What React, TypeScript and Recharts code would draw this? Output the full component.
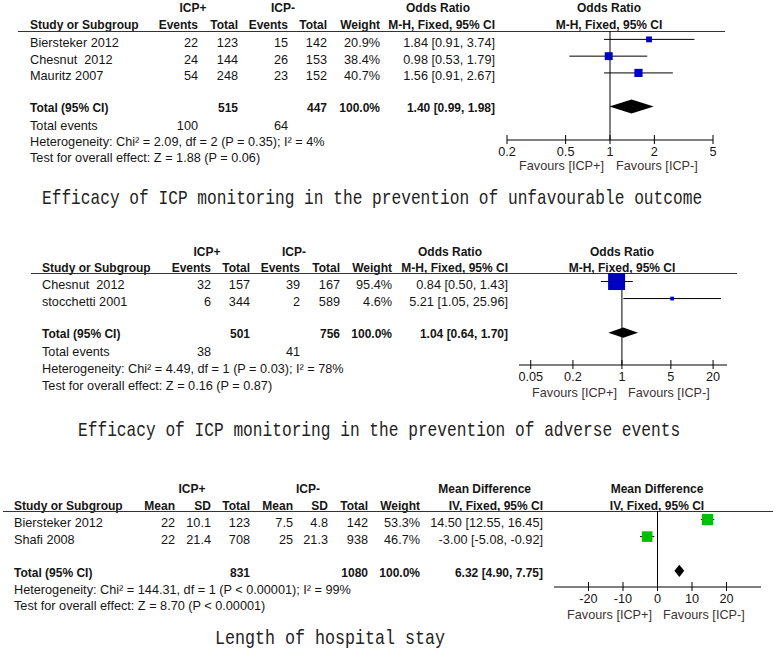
import React from 'react';
import { ComposedChart, XAxis, YAxis, Scatter, ReferenceLine, ReferenceArea } from 'recharts';

// ---------- Panel 1: unfavourable outcome (Odds Ratio) ----------
const studies1 = ['Biersteker 2012', 'Chesnut  2012', 'Mauritz 2007'];
const plusEvents1 = [22, 24, 54];
const plusTotal1 = [123, 144, 248];
const minusEvents1 = [15, 26, 23];
const minusTotal1 = [142, 153, 152];
const weights1 = [20.9, 38.4, 40.7];
const est1 = [1.84, 0.98, 1.56];
const lo1 = [0.91, 0.53, 0.91];
const hi1 = [3.74, 1.79, 2.67];
const groupTotals1 = [515, 447];
const totalEvents1 = [100, 64];
const pooled1 = [1.4, 0.99, 1.98];
const ticks1 = [0.2, 0.5, 1, 2, 5];
const het1 = 'Heterogeneity: Chi² = 2.09, df = 2 (P = 0.35); I² = 4%';
const test1 = 'Test for overall effect: Z = 1.88 (P = 0.06)';
const caption1 = 'Efficacy of ICP monitoring in the prevention of unfavourable outcome';

// ---------- Panel 2: adverse events (Odds Ratio) ----------
const studies2 = ['Chesnut  2012', 'stocchetti 2001'];
const plusEvents2 = [32, 6];
const plusTotal2 = [157, 344];
const minusEvents2 = [39, 2];
const minusTotal2 = [167, 589];
const weights2 = [95.4, 4.6];
const est2 = [0.84, 5.21];
const lo2 = [0.5, 1.05];
const hi2 = [1.43, 25.96];
const groupTotals2 = [501, 756];
const totalEvents2 = [38, 41];
const pooled2 = [1.04, 0.64, 1.7];
const ticks2 = [0.05, 0.2, 1, 5, 20];
const het2 = 'Heterogeneity: Chi² = 4.49, df = 1 (P = 0.03); I² = 78%';
const test2 = 'Test for overall effect: Z = 0.16 (P = 0.87)';
const caption2 = 'Efficacy of ICP monitoring in the prevention of adverse events';

// ---------- Panel 3: length of hospital stay (Mean Difference) ----------
const studies3 = ['Biersteker 2012', 'Shafi 2008'];
const plusMean3 = [22, 22];
const plusSD3 = [10.1, 21.4];
const plusTotal3 = [123, 708];
const minusMean3 = [7.5, 25];
const minusSD3 = [4.8, 21.3];
const minusTotal3 = [142, 938];
const weights3 = [53.3, 46.7];
const est3 = [14.5, -3.0];
const lo3 = [12.55, -5.08];
const hi3 = [16.45, -0.92];
const groupTotals3 = [831, 1080];
const pooled3 = [6.32, 4.9, 7.75];
const ticks3 = [-20, -10, 0, 10, 20];
const het3 = 'Heterogeneity: Chi² = 144.31, df = 1 (P < 0.00001); I² = 99%';
const test3 = 'Test for overall effect: Z = 8.70 (P < 0.00001)';
const caption3 = 'Length of hospital stay';

const SANS = '"Liberation Sans", Arial, sans-serif';
const INK = '#151515';

type TP = { x: number; y: number; a?: 'l' | 'r' | 'c'; b?: boolean; c?: string; children: React.ReactNode };
const T = ({ x, y, a = 'l', b = false, c = INK, children }: TP) => (
  <div
    style={{
      position: 'absolute',
      left: x,
      top: y,
      transform: `translate(${a === 'l' ? '0' : a === 'r' ? '-100%' : '-50%'}, -50%)`,
      whiteSpace: 'pre',
      fontFamily: SANS,
      fontSize: b ? 12 : 12.7,
      fontWeight: b ? 700 : 400,
      color: c,
      lineHeight: 1,
    }}
  >
    {children}
  </div>
);

const HLine = ({ x1, x2, y }: { x1: number; x2: number; y: number }) => (
  <div style={{ position: 'absolute', left: x1, top: y, width: x2 - x1, height: 1, background: '#333' }} />
);

const CAP_FS = 21;
const Caption = ({ x1, x2, y, text }: { x1: number; x2: number; y: number; text: string }) => {
  const natural = 0.6 * CAP_FS * text.length;
  const r = (x2 - x1) / natural;
  return (
    <div
      style={{
        position: 'absolute',
        left: x1,
        top: y,
        transformOrigin: '0 50%',
        transform: `translateY(-50%) scaleX(${r})`,
        whiteSpace: 'pre',
        fontFamily: '"Liberation Mono", "DejaVu Sans Mono", monospace',
        fontSize: CAP_FS,
        lineHeight: 1,
        color: '#222',
      }}
    >
      {text}
    </div>
  );
};

const renderTick = (p: any) => (
  <g>
    <line x1={p.x} x2={p.x} y1={p.y - 5} y2={p.y + 4} stroke="#000" strokeWidth={1} />
    <text x={p.x} y={p.y + 12} textAnchor="middle" dominantBaseline="central" fontSize={12.7} fontFamily={SANS} fill={INK}>
      {String(p.payload.value)}
    </text>
  </g>
);

type FP = {
  left: number;
  top: number;
  width: number;
  plotH: number;
  scale: 'log' | 'linear';
  domain: [number, number];
  ticks: number[];
  yDomain: [number, number];
  est: number[];
  lo: number[];
  hi: number[];
  weights: number[];
  pooled: number[];
  k: number;
  color: string;
  dh: number;
  nullX: number;
};

const PAD = 20;

function Forest({ left, top, width, plotH, scale, domain, ticks, yDomain, est, lo, hi, weights, pooled, k, color, dh, nullX }: FP) {
  const pts = est.map((v, i) => ({ x: v, y: i, w: weights[i] }));
  const pooledRow = est.length + 1;
  const diamond = (p: any) => {
    const { x, y, width: w, height: h } = p;
    return (
      <polygon
        points={`${x},${y + h / 2} ${x + w / 2},${y} ${x + w},${y + h / 2} ${x + w / 2},${y + h}`}
        fill="#000"
        stroke="none"
      />
    );
  };
  const square = (p: any) => {
    const s = k * Math.sqrt(p.payload.w);
    return <rect x={p.cx - s / 2} y={p.cy - s / 2} width={s} height={s} fill={color} />;
  };
  return (
    <div style={{ position: 'absolute', left: left - PAD, top }}>
      <ComposedChart width={width + 2 * PAD} height={plotH + 22} data={pts} margin={{ top: 0, right: PAD, bottom: 0, left: PAD }}>
        <XAxis
          type="number"
          dataKey="x"
          scale={scale}
          domain={domain}
          ticks={ticks}
          interval={0}
          allowDataOverflow
          tickSize={0}
          tickMargin={0}
          tickLine={false}
          axisLine={{ stroke: '#000' }}
          height={22}
          tick={renderTick}
        />
        <YAxis type="number" dataKey="y" domain={yDomain} reversed hide allowDataOverflow />
        <ReferenceLine x={nullX} stroke="#000" ifOverflow="visible" />
        {est.map((_, i) => (
          <ReferenceLine
            key={i}
            segment={[
              { x: lo[i], y: i },
              { x: hi[i], y: i },
            ]}
            stroke="#000"
            ifOverflow="visible"
          />
        ))}
        <ReferenceArea
          x1={pooled[1]}
          x2={pooled[2]}
          y1={pooledRow - dh}
          y2={pooledRow + dh}
          ifOverflow="visible"
          shape={diamond}
        />
        <Scatter data={pts} dataKey="y" isAnimationActive={false} shape={square} />
      </ComposedChart>
    </div>
  );
}

const pct = (v: number) => `${v.toFixed(1)}%`;
const ci = (e: number, l: number, h: number) => `${e.toFixed(2)} [${l.toFixed(2)}, ${h.toFixed(2)}]`;

export default function App() {
  const rowY1 = (i: number) => 43 + 16.5 * i;
  const rowY2 = (i: number) => 285 + 17 * i;
  const rowY3 = (i: number) => 523 + 17 * i;
  return (
    <div style={{ position: 'absolute', left: 0, top: 0, width: 776, height: 660, background: '#fff', overflow: 'hidden' }}>
      {/* ===== Panel 1 ===== */}
      <T x={193} y={8} a="c" b>ICP+</T>
      <T x={283} y={8} a="c" b>ICP-</T>
      <T x={470} y={8} a="r" b>Odds Ratio</T>
      <T x={609} y={8} a="c" b>Odds Ratio</T>
      <T x={30} y={25} b>Study or Subgroup</T>
      <T x={198} y={25} a="r" b>Events</T>
      <T x={238} y={25} a="r" b>Total</T>
      <T x={288} y={25} a="r" b>Events</T>
      <T x={327} y={25} a="r" b>Total</T>
      <T x={380} y={25} a="r" b>Weight</T>
      <T x={495} y={25} a="r" b>M-H, Fixed, 95% CI</T>
      <T x={609} y={25} a="c" b>M-H, Fixed, 95% CI</T>
      <HLine x1={18} x2={725} y={31} />
      {studies1.map((s, i) => (
        <React.Fragment key={s}>
          <T x={30} y={rowY1(i)}>{s}</T>
          <T x={198} y={rowY1(i)} a="r">{plusEvents1[i]}</T>
          <T x={238} y={rowY1(i)} a="r">{plusTotal1[i]}</T>
          <T x={288} y={rowY1(i)} a="r">{minusEvents1[i]}</T>
          <T x={327} y={rowY1(i)} a="r">{minusTotal1[i]}</T>
          <T x={380} y={rowY1(i)} a="r">{pct(weights1[i])}</T>
          <T x={495} y={rowY1(i)} a="r">{ci(est1[i], lo1[i], hi1[i])}</T>
        </React.Fragment>
      ))}
      <T x={30} y={108} b>Total (95% CI)</T>
      <T x={238} y={108} a="r" b>{groupTotals1[0]}</T>
      <T x={327} y={108} a="r" b>{groupTotals1[1]}</T>
      <T x={380} y={108} a="r" b>100.0%</T>
      <T x={495} y={108} a="r" b>{ci(pooled1[0], pooled1[1], pooled1[2])}</T>
      <T x={30} y={126}>Total events</T>
      <T x={198} y={126} a="r">{totalEvents1[0]}</T>
      <T x={288} y={126} a="r">{totalEvents1[1]}</T>
      <T x={30} y={142}>{het1}</T>
      <T x={30} y={158}>{test1}</T>
      <Forest
        left={507}
        top={31}
        width={206}
        plotH={109}
        scale="log"
        domain={[0.2, 5]}
        ticks={ticks1}
        yDomain={[-0.5, 6]}
        est={est1}
        lo={lo1}
        hi={hi1}
        weights={weights1}
        pooled={pooled1}
        k={1.28}
        color="#0000c0"
        dh={0.42}
        nullX={1}
      />
      <T x={604} y={166} a="r" c="#3b3333">Favours [ICP+]</T>
      <T x={616} y={166} c="#3b3333">Favours [ICP-]</T>
      <Caption x1={42} x2={702} y={198} text={caption1} />

      {/* ===== Panel 2 ===== */}
      <T x={207} y={252} a="c" b>ICP+</T>
      <T x={294} y={252} a="c" b>ICP-</T>
      <T x={482} y={252} a="r" b>Odds Ratio</T>
      <T x={622} y={252} a="c" b>Odds Ratio</T>
      <T x={42} y={268} b>Study or Subgroup</T>
      <T x={211} y={268} a="r" b>Events</T>
      <T x={250} y={268} a="r" b>Total</T>
      <T x={300} y={268} a="r" b>Events</T>
      <T x={340} y={268} a="r" b>Total</T>
      <T x={392} y={268} a="r" b>Weight</T>
      <T x={508} y={268} a="r" b>M-H, Fixed, 95% CI</T>
      <T x={622} y={268} a="c" b>M-H, Fixed, 95% CI</T>
      <HLine x1={31} x2={737} y={273} />
      {studies2.map((s, i) => (
        <React.Fragment key={s}>
          <T x={42} y={rowY2(i)}>{s}</T>
          <T x={211} y={rowY2(i)} a="r">{plusEvents2[i]}</T>
          <T x={250} y={rowY2(i)} a="r">{plusTotal2[i]}</T>
          <T x={300} y={rowY2(i)} a="r">{minusEvents2[i]}</T>
          <T x={340} y={rowY2(i)} a="r">{minusTotal2[i]}</T>
          <T x={392} y={rowY2(i)} a="r">{pct(weights2[i])}</T>
          <T x={508} y={rowY2(i)} a="r">{ci(est2[i], lo2[i], hi2[i])}</T>
        </React.Fragment>
      ))}
      <T x={42} y={334} b>Total (95% CI)</T>
      <T x={250} y={334} a="r" b>{groupTotals2[0]}</T>
      <T x={340} y={334} a="r" b>{groupTotals2[1]}</T>
      <T x={392} y={334} a="r" b>100.0%</T>
      <T x={508} y={334} a="r" b>{ci(pooled2[0], pooled2[1], pooled2[2])}</T>
      <T x={42} y={352}>Total events</T>
      <T x={211} y={352} a="r">{totalEvents2[0]}</T>
      <T x={300} y={352} a="r">{totalEvents2[1]}</T>
      <T x={42} y={369}>{het2}</T>
      <T x={42} y={386}>{test2}</T>
      <Forest
        left={519}
        top={273}
        width={208}
        plotH={92}
        scale="log"
        domain={[0.034, 31.6]}
        ticks={ticks2}
        yDomain={[-0.5, 4.9]}
        est={est2}
        lo={lo2}
        hi={hi2}
        weights={weights2}
        pooled={pooled2}
        k={1.74}
        color="#0000c0"
        dh={0.3}
        nullX={1}
      />
      <T x={617} y={393} a="r" c="#3b3333">Favours [ICP+]</T>
      <T x={628} y={393} c="#3b3333">Favours [ICP-]</T>
      <Caption x1={78} x2={680} y={430} text={caption2} />

      {/* ===== Panel 3 ===== */}
      <T x={192} y={489} a="c" b>ICP+</T>
      <T x={308} y={489} a="c" b>ICP-</T>
      <T x={531} y={489} a="r" b>Mean Difference</T>
      <T x={657} y={489} a="c" b>Mean Difference</T>
      <T x={14} y={506} b>Study or Subgroup</T>
      <T x={175} y={506} a="r" b>Mean</T>
      <T x={211} y={506} a="r" b>SD</T>
      <T x={250} y={506} a="r" b>Total</T>
      <T x={293} y={506} a="r" b>Mean</T>
      <T x={328} y={506} a="r" b>SD</T>
      <T x={368} y={506} a="r" b>Total</T>
      <T x={420} y={506} a="r" b>Weight</T>
      <T x={543} y={506} a="r" b>IV, Fixed, 95% CI</T>
      <T x={657} y={506} a="c" b>IV, Fixed, 95% CI</T>
      <HLine x1={3} x2={773} y={511} />
      {studies3.map((s, i) => (
        <React.Fragment key={s}>
          <T x={14} y={rowY3(i)}>{s}</T>
          <T x={175} y={rowY3(i)} a="r">{plusMean3[i]}</T>
          <T x={211} y={rowY3(i)} a="r">{plusSD3[i]}</T>
          <T x={250} y={rowY3(i)} a="r">{plusTotal3[i]}</T>
          <T x={293} y={rowY3(i)} a="r">{minusMean3[i]}</T>
          <T x={328} y={rowY3(i)} a="r">{minusSD3[i]}</T>
          <T x={368} y={rowY3(i)} a="r">{minusTotal3[i]}</T>
          <T x={420} y={rowY3(i)} a="r">{pct(weights3[i])}</T>
          <T x={543} y={rowY3(i)} a="r">{ci(est3[i], lo3[i], hi3[i])}</T>
        </React.Fragment>
      ))}
      <T x={14} y={573} b>Total (95% CI)</T>
      <T x={250} y={573} a="r" b>{groupTotals3[0]}</T>
      <T x={368} y={573} a="r" b>{groupTotals3[1]}</T>
      <T x={420} y={573} a="r" b>100.0%</T>
      <T x={543} y={573} a="r" b>{ci(pooled3[0], pooled3[1], pooled3[2])}</T>
      <T x={14} y={590}>{het3}</T>
      <T x={14} y={606}>{test3}</T>
      <Forest
        left={554}
        top={511}
        width={207}
        plotH={76}
        scale="linear"
        domain={[-30, 30]}
        ticks={ticks3}
        yDomain={[-0.5, 3.95]}
        est={est3}
        lo={lo3}
        hi={hi3}
        weights={weights3}
        pooled={pooled3}
        k={1.55}
        color="#00c000"
        dh={0.36}
        nullX={0}
      />
      <T x={652} y={615} a="r" c="#3b3333">Favours [ICP+]</T>
      <T x={663} y={615} c="#3b3333">Favours [ICP-]</T>
      <Caption x1={215} x2={445} y={638} text={caption3} />
    </div>
  );
}
